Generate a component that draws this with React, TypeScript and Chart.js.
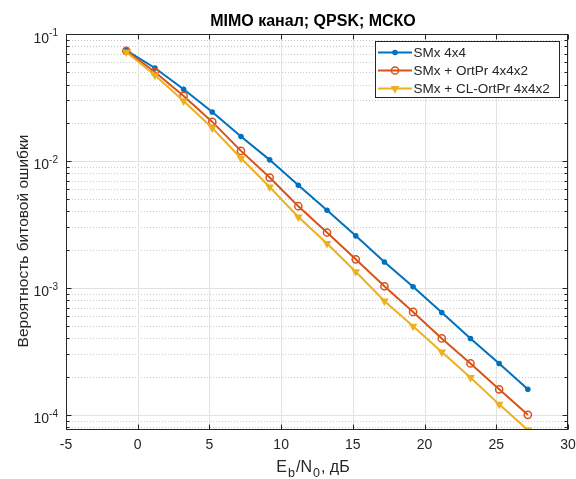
import React, { useEffect, useRef } from 'react';
import { Chart, registerables } from 'chart.js';

Chart.register(...registerables);

// ---- data ----
const snrDb = [-0.8, 1.2, 3.2, 5.2, 7.2, 9.2, 11.2, 13.2, 15.2, 17.2, 19.2, 21.2, 23.2, 25.2, 27.2];
const berSMx = [0.0744, 0.054, 0.0367, 0.0243, 0.0156, 0.0102, 0.00644, 0.00409, 0.00257, 0.0016, 0.00102, 0.00064, 0.0004, 0.000254, 0.000159];
const berOrtPr = [0.0738, 0.0502, 0.0325, 0.0203, 0.012, 0.0074, 0.0044, 0.00273, 0.00168, 0.00103, 0.000647, 0.0004, 0.000254, 0.000159, 0.0001];
const berClOrtPr = [0.0722, 0.0473, 0.0297, 0.0182, 0.0105, 0.00624, 0.00362, 0.00224, 0.00134, 0.00079, 0.0005, 0.000313, 0.000197, 0.000121, 0.000076];
const seriesLabels = ['SMx 4x4', 'SMx + OrtPr 4x4x2', 'SMx + CL-OrtPr 4x4x2'];
const xTickValues = [-5, 0, 5, 10, 15, 20, 25, 30];
const yDecadeExponents = [-4, -3, -2, -1];
const titleText = 'MIMO канал; QPSK; МСКО';
const yTitleText = 'Вероятность битовой ошибки';
const xTitleParts = [
  { t: 'E', sub: false },
  { t: 'b', sub: true },
  { t: '/N', sub: false },
  { t: '0', sub: true },
  { t: ', дБ', sub: false },
];

const X_MIN = -5;
const X_MAX = 30;
const Y_MIN = 7.6e-5;
const Y_MAX = 0.1;

const FONT = '"Liberation Sans", Arial, Helvetica, sans-serif';
const TEXT = '#262626';
const AXIS = '#262626';
const COLORS = ['#0072BD', '#D95319', '#EDB120'];

type Marker = 'dot' | 'circle' | 'tri';
const MARKERS: Marker[] = ['dot', 'circle', 'tri'];

function drawMarker(ctx: CanvasRenderingContext2D, kind: Marker, x: number, y: number, color: string) {
  ctx.save();
  ctx.strokeStyle = color;
  ctx.fillStyle = color;
  ctx.setLineDash([]);
  if (kind === 'dot') {
    ctx.beginPath();
    ctx.arc(x, y, 2.8, 0, Math.PI * 2);
    ctx.fill();
  } else if (kind === 'circle') {
    ctx.lineWidth = 1.5;
    ctx.beginPath();
    ctx.arc(x, y, 3.6, 0, Math.PI * 2);
    ctx.stroke();
  } else {
    const r = 5;
    ctx.beginPath();
    for (let k = 0; k < 3; k++) {
      const a = Math.PI + (k * 2 * Math.PI) / 3;
      const px = x + Math.sin(a) * r;
      const py = y - Math.cos(a) * r;
      if (k === 0) ctx.moveTo(px, py);
      else ctx.lineTo(px, py);
    }
    ctx.closePath();
    ctx.fill();
  }
  ctx.restore();
}

function hline(ctx: CanvasRenderingContext2D, x1: number, x2: number, y: number) {
  ctx.beginPath();
  ctx.moveTo(x1, y);
  ctx.lineTo(x2, y);
  ctx.stroke();
}
function vline(ctx: CanvasRenderingContext2D, x: number, y1: number, y2: number) {
  ctx.beginPath();
  ctx.moveTo(x, y1);
  ctx.lineTo(x, y2);
  ctx.stroke();
}

function minorValues(): number[] {
  const out: number[] = [];
  for (let e = -5; e <= -2; e++) {
    for (let m = 2; m <= 9; m++) {
      const v = m * Math.pow(10, e);
      if (v >= Y_MIN && v <= Y_MAX) out.push(v);
    }
  }
  return out;
}

const matlabAxes = {
  id: 'matlabAxes',
  beforeDatasetsDraw(chart: any) {
    const { ctx, chartArea: a, scales } = chart;
    const x = scales.x;
    const y = scales.y;
    ctx.save();
    ctx.fillStyle = '#ffffff';
    ctx.fillRect(a.left, a.top, a.right - a.left, a.bottom - a.top);
    ctx.lineWidth = 1;
    // minor y grid (dotted)
    ctx.strokeStyle = '#c9c9c9';
    ctx.setLineDash([1, 2]);
    minorValues().forEach((v) => {
      const py = Math.round(y.getPixelForValue(v)) + 0.5;
      hline(ctx, a.left, a.right, py);
    });
    ctx.setLineDash([]);
    // major grid
    ctx.strokeStyle = '#e2e2e2';
    yDecadeExponents.forEach((e) => {
      const py = Math.round(y.getPixelForValue(Math.pow(10, e))) + 0.5;
      hline(ctx, a.left, a.right, py);
    });
    xTickValues.forEach((v) => {
      const px = Math.round(x.getPixelForValue(v)) + 0.5;
      vline(ctx, px, a.top, a.bottom);
    });
    ctx.restore();
  },
  afterDatasetsDraw(chart: any) {
    const { ctx, chartArea: a, scales } = chart;
    const x = scales.x;
    const y = scales.y;
    const L = Math.round(a.left) + 0.5;
    const R = Math.round(a.right) - 0.5;
    const T = Math.round(a.top) + 0.5;
    const B = Math.round(a.bottom) - 0.5;
    ctx.save();
    // box
    ctx.strokeStyle = AXIS;
    ctx.lineWidth = 1;
    ctx.strokeRect(L, T, R - L, B - T);
    // x ticks
    xTickValues.forEach((v) => {
      const px = Math.round(x.getPixelForValue(v)) + 0.5;
      vline(ctx, px, B, B - 5);
      vline(ctx, px, T, T + 5);
    });
    // y ticks
    yDecadeExponents.forEach((e) => {
      const py = Math.round(y.getPixelForValue(Math.pow(10, e))) + 0.5;
      hline(ctx, L, L + 5, py);
      hline(ctx, R, R - 5, py);
    });
    minorValues().forEach((v) => {
      const py = Math.round(y.getPixelForValue(v)) + 0.5;
      hline(ctx, L, L + 3, py);
      hline(ctx, R, R - 3, py);
    });

    // x tick labels
    ctx.fillStyle = TEXT;
    ctx.font = `14px ${FONT}`;
    ctx.textAlign = 'center';
    ctx.textBaseline = 'middle';
    xTickValues.forEach((v) => {
      ctx.fillText(String(v), x.getPixelForValue(v), a.bottom + 15);
    });

    // y tick labels 10^e
    yDecadeExponents.forEach((e) => {
      const py = y.getPixelForValue(Math.pow(10, e));
      const exp = String(e);
      ctx.font = `10px ${FONT}`;
      const we = ctx.measureText(exp).width;
      ctx.font = `14px ${FONT}`;
      const wb = ctx.measureText('10').width;
      const right = a.left - 8;
      ctx.textAlign = 'left';
      ctx.textBaseline = 'alphabetic';
      ctx.fillText('10', right - we - wb, py + 8.5);
      ctx.font = `10px ${FONT}`;
      ctx.fillText(exp, right - we, py + 2);
    });

    // x title with subscripts
    const mainF = `16px ${FONT}`;
    const subF = `12.5px ${FONT}`;
    const gap = 1;
    let total = 0;
    xTitleParts.forEach((p) => {
      ctx.font = p.sub ? subF : mainF;
      total += ctx.measureText(p.t).width + (p.sub ? 2 * gap : 0);
    });
    let cx = 313 - total / 2;
    const base = a.bottom + 42;
    ctx.textAlign = 'left';
    ctx.textBaseline = 'alphabetic';
    xTitleParts.forEach((p) => {
      ctx.font = p.sub ? subF : mainF;
      if (p.sub) cx += gap;
      ctx.fillText(p.t, cx, p.sub ? base + 5 : base);
      cx += ctx.measureText(p.t).width + (p.sub ? gap : 0);
    });

    // y title
    ctx.save();
    ctx.translate(28, 241);
    ctx.rotate(-Math.PI / 2);
    ctx.font = `15.5px ${FONT}`;
    ctx.textAlign = 'center';
    ctx.textBaseline = 'alphabetic';
    ctx.fillText(yTitleText, 0, 0);
    ctx.restore();

    // title
    ctx.font = `bold 16px ${FONT}`;
    ctx.fillStyle = '#000000';
    ctx.textAlign = 'center';
    ctx.textBaseline = 'middle';
    ctx.fillText(titleText, 313, 21.5);

    // legend
    const lx = 375.5;
    const ly = 41.5;
    const lw = 184;
    const lh = 56;
    ctx.fillStyle = '#ffffff';
    ctx.fillRect(lx, ly, lw, lh);
    ctx.strokeStyle = AXIS;
    ctx.lineWidth = 1;
    ctx.strokeRect(lx, ly, lw, lh);
    ctx.font = `13.5px ${FONT}`;
    ctx.textAlign = 'left';
    ctx.textBaseline = 'middle';
    chart.data.datasets.forEach((ds: any, i: number) => {
      const ry = 52.5 + i * 18;
      ctx.strokeStyle = COLORS[i];
      ctx.lineWidth = 2;
      hline(ctx, 378, 412, ry);
      drawMarker(ctx, MARKERS[i], 395, ry, COLORS[i]);
      ctx.fillStyle = TEXT;
      ctx.fillText(ds.label, 413.5, ry + 0.5);
    });
    ctx.restore();
  },
};

function toPoints(ys: number[]) {
  return snrDb.map((v, i) => ({ x: v, y: ys[i] }));
}

export default function App() {
  const canvasRef = useRef<HTMLCanvasElement | null>(null);

  useEffect(() => {
    document.body.style.margin = '0';
    const canvas = canvasRef.current;
    if (!canvas) return;
    const chart = new Chart(canvas, {
      type: 'line',
      data: {
        datasets: [
          {
            label: seriesLabels[0],
            data: toPoints(berSMx),
            borderColor: COLORS[0],
            backgroundColor: COLORS[0],
            borderWidth: 2,
            pointStyle: 'circle',
            pointRadius: 2.8,
            pointBorderWidth: 0,
            pointBackgroundColor: COLORS[0],
            order: 3,
            clip: 0,
          },
          {
            label: seriesLabels[1],
            data: toPoints(berOrtPr),
            borderColor: COLORS[1],
            backgroundColor: 'rgba(0,0,0,0)',
            borderWidth: 2,
            pointStyle: 'circle',
            pointRadius: 3.6,
            pointBorderWidth: 1.5,
            pointBorderColor: COLORS[1],
            pointBackgroundColor: 'rgba(0,0,0,0)',
            order: 2,
            clip: 0,
          },
          {
            label: seriesLabels[2],
            data: toPoints(berClOrtPr),
            borderColor: COLORS[2],
            backgroundColor: COLORS[2],
            borderWidth: 2,
            pointStyle: 'triangle',
            rotation: 180,
            pointRadius: 5,
            pointBorderWidth: 0,
            pointBackgroundColor: COLORS[2],
            order: 1,
            clip: 0,
          },
        ] as any,
      },
      options: {
        animation: false,
        responsive: false,
        devicePixelRatio: 1,
        events: [],
        layout: { padding: { top: 34, right: 8, left: 0, bottom: 0 } },
        plugins: {
          legend: { display: false },
          title: { display: false },
          tooltip: { enabled: false },
        },
        scales: {
          x: {
            type: 'linear',
            min: X_MIN,
            max: X_MAX,
            grid: { display: false },
            border: { display: false },
            ticks: { display: false },
            afterFit: (s: any) => {
              s.height = 49;
            },
          },
          y: {
            type: 'logarithmic',
            min: Y_MIN,
            max: Y_MAX,
            grid: { display: false },
            border: { display: false },
            ticks: { display: false },
            afterFit: (s: any) => {
              s.width = 66;
            },
          },
        },
      } as any,
      plugins: [matlabAxes],
    });
    return () => chart.destroy();
  }, []);

  return (
    <div style={{ position: 'fixed', left: 0, top: 0, width: 576, height: 479, background: '#ffffff' }}>
      <canvas ref={canvasRef} width={576} height={479} />
    </div>
  );
}
